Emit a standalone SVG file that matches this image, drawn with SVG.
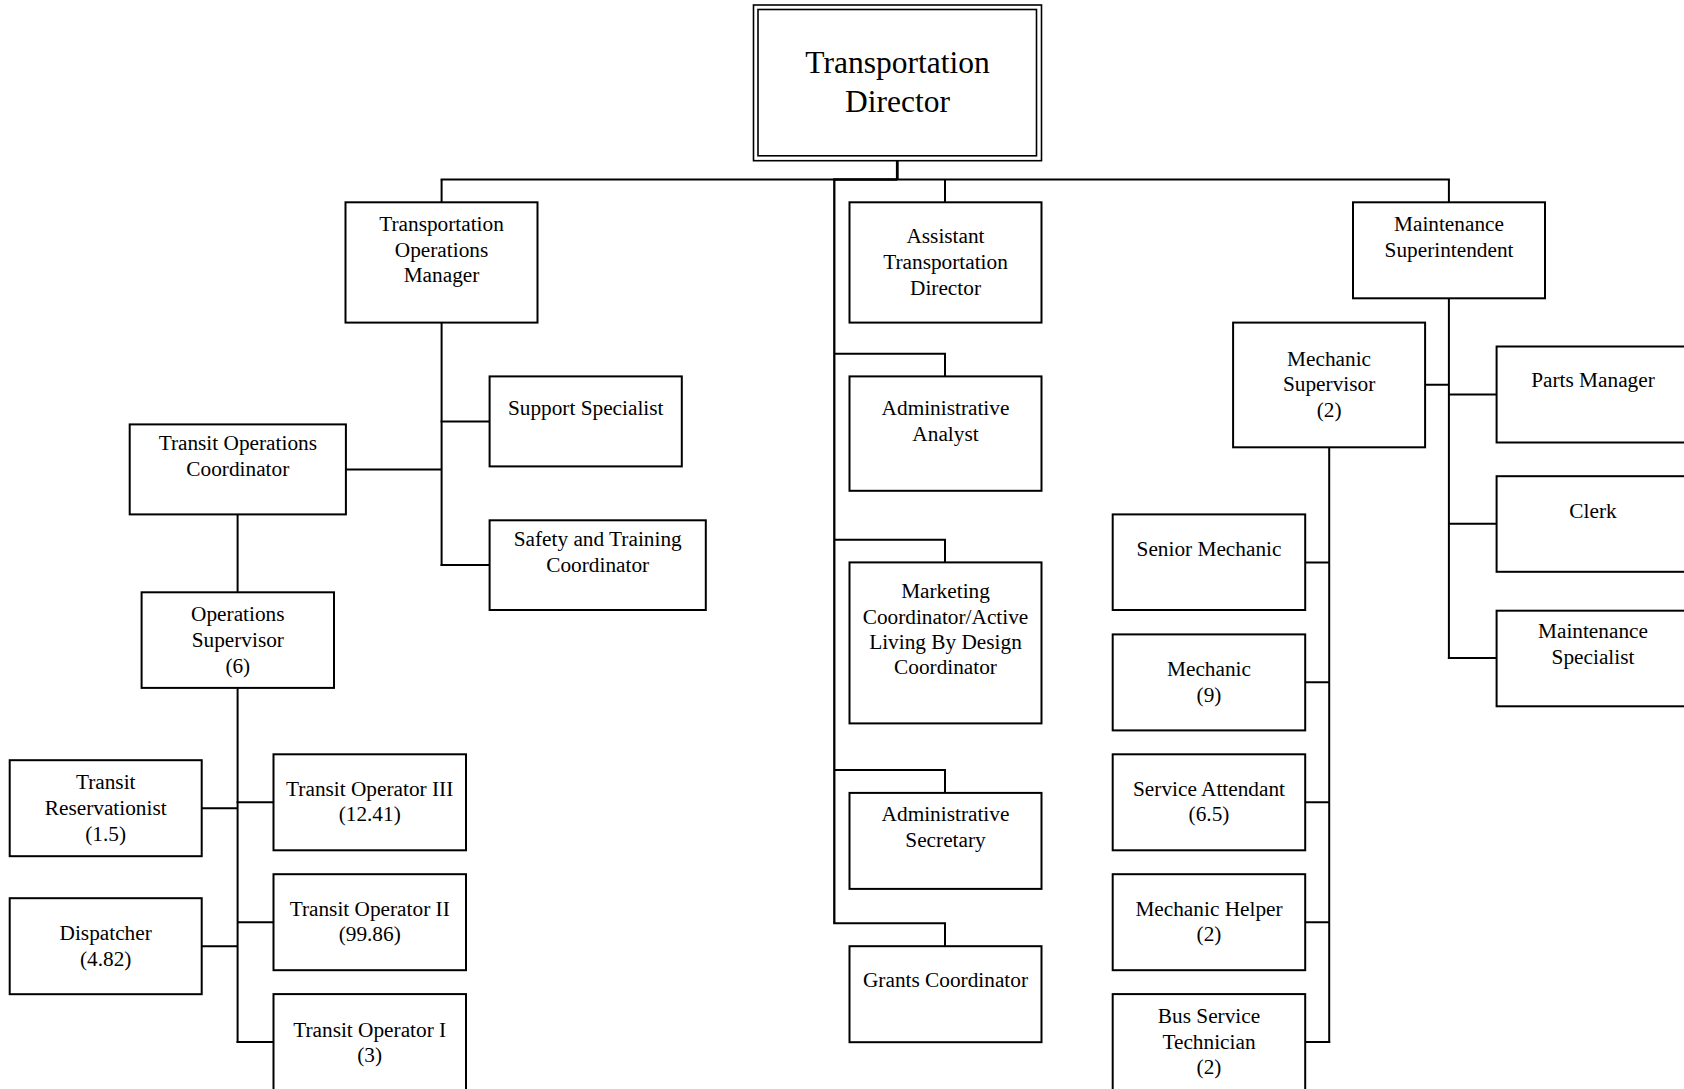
<svg xmlns="http://www.w3.org/2000/svg" width="1684" height="1089" viewBox="0 0 1684 1089">
<style>
.b{fill:#fff;stroke:#000;stroke-width:2}
.d{fill:none;stroke:#000;stroke-width:1.6}
.t{font-family:"Liberation Serif","Times New Roman",serif;font-size:21.3px;text-anchor:middle;fill:#000}
.big{font-size:31.5px}
.c line,.c path{fill:none;stroke:#000;stroke-width:2}
.c .k{stroke-width:2.8}
.c .m{stroke-width:2.3}
</style>
<rect width="1684" height="1089" fill="#fff"/>
<g class="c" id="connectors">
<line class="k" x1="897.3" y1="160.7" x2="897.3" y2="179.5"/>
<line x1="440.6" y1="179.5" x2="1449.9" y2="179.5"/>
<line class="m" x1="833.2" y1="179.5" x2="897.3" y2="179.5"/>
<line x1="441.6" y1="179.5" x2="441.6" y2="202.3"/>
<line x1="945" y1="179.5" x2="945" y2="202.3"/>
<line x1="1448.9" y1="179.5" x2="1448.9" y2="202.3"/>
<line class="m" x1="834.3" y1="179.5" x2="834.3" y2="923.2"/>
<path d="M834.3 353.8H945V376.4M834.3 539.8H945V562.4M834.3 769.9H945V792.9M833.2 923.2H945V946.2"/>
<line x1="441.6" y1="322.6" x2="441.6" y2="565.9"/>
<path d="M440.6 421.6H489.6M440.6 564.9H489.6M345.9 469.6H441.6"/>
<line x1="237.6" y1="514.4" x2="237.6" y2="592.3"/>
<line x1="237.6" y1="687.9" x2="237.6" y2="1043.1"/>
<path d="M236.6 802.3H273.5M237.6 922.2H273.5M236.6 1042.1H273.5M201.8 808.2H237.6M201.8 946.2H237.6"/>
<line x1="1448.9" y1="298.2" x2="1448.9" y2="659"/>
<path d="M1425.2 384.8H1448.9M1448.9 394.5H1496.6M1448.9 523.8H1496.6M1447.9 658H1496.6"/>
<line x1="1329.2" y1="447.3" x2="1329.2" y2="1043.1"/>
<path d="M1305.2 562.4H1329.2M1305.2 682.3H1329.2M1305.2 802.3H1329.2M1305.2 922.2H1329.2M1305.2 1042.1H1330.2"/>
</g>
<g id="director">
<rect class="d" x="753.5" y="5" width="288" height="155.7"/>
<rect class="d" x="758" y="9.5" width="278.5" height="146.3"/>
<text class="t big" x="897.5"><tspan x="897.5" y="73">Transportation</tspan><tspan x="897.5" y="112">Director</tspan></text>
</g>
<g id="tom"><rect class="b" x="345.5" y="202.3" width="192" height="120.3"/>
<text class="t"><tspan x="441.5" y="231.1">Transportation</tspan><tspan x="441.5" y="256.8">Operations</tspan><tspan x="441.5" y="282.3">Manager</tspan></text></g>
<g id="atd"><rect class="b" x="849.5" y="202.3" width="192" height="120.3"/>
<text class="t"><tspan x="945.5" y="243.3">Assistant</tspan><tspan x="945.5" y="269.3">Transportation</tspan><tspan x="945.5" y="295.3">Director</tspan></text></g>
<g id="ms"><rect class="b" x="1353" y="202.3" width="192" height="96"/>
<text class="t"><tspan x="1449" y="231.1">Maintenance</tspan><tspan x="1449" y="257.1">Superintendent</tspan></text></g>
<g id="ss"><rect class="b" x="489.6" y="376.4" width="192.2" height="90"/>
<text class="t" x="585.7" y="415.4">Support Specialist</text></g>
<g id="toc"><rect class="b" x="129.7" y="424.4" width="216.2" height="90"/>
<text class="t"><tspan x="237.8" y="450.1">Transit Operations</tspan><tspan x="237.8" y="476.2">Coordinator</tspan></text></g>
<g id="safety"><rect class="b" x="489.6" y="520.3" width="216.2" height="89.7"/>
<text class="t"><tspan x="597.7" y="545.8">Safety and Training</tspan><tspan x="597.7" y="571.8">Coordinator</tspan></text></g>
<g id="aa"><rect class="b" x="849.5" y="376.4" width="192" height="114.4"/>
<text class="t"><tspan x="945.5" y="414.7">Administrative</tspan><tspan x="945.5" y="440.7">Analyst</tspan></text></g>
<g id="mktg"><rect class="b" x="849.5" y="562.4" width="192" height="161"/>
<text class="t"><tspan x="945.5" y="597.9">Marketing</tspan><tspan x="945.5" y="623.6">Coordinator/Active</tspan><tspan x="945.5" y="649">Living By Design</tspan><tspan x="945.5" y="674.3">Coordinator</tspan></text></g>
<g id="as"><rect class="b" x="849.5" y="792.9" width="192" height="96"/>
<text class="t"><tspan x="945.5" y="821.4">Administrative</tspan><tspan x="945.5" y="847.1">Secretary</tspan></text></g>
<g id="grants"><rect class="b" x="849.5" y="946.2" width="192" height="96"/>
<text class="t" x="945.5" y="987.2">Grants Coordinator</text></g>
<g id="opsup"><rect class="b" x="141.6" y="592.3" width="192.4" height="95.6"/>
<text class="t"><tspan x="237.8" y="621.2">Operations</tspan><tspan x="237.8" y="646.9">Supervisor</tspan><tspan x="237.8" y="672.6">(6)</tspan></text></g>
<g id="tr"><rect class="b" x="9.7" y="760.2" width="192" height="96"/>
<text class="t"><tspan x="105.7" y="789">Transit</tspan><tspan x="105.7" y="815">Reservationist</tspan><tspan x="105.7" y="840.5">(1.5)</tspan></text></g>
<g id="disp"><rect class="b" x="9.7" y="898.2" width="192" height="96"/>
<text class="t"><tspan x="105.7" y="940.2">Dispatcher</tspan><tspan x="105.7" y="965.6">(4.82)</tspan></text></g>
<g id="to3"><rect class="b" x="273.5" y="754.3" width="192.5" height="96"/>
<text class="t"><tspan x="369.7" y="796">Transit Operator III</tspan><tspan x="369.7" y="821.4">(12.41)</tspan></text></g>
<g id="to2"><rect class="b" x="273.5" y="874.2" width="192.5" height="96"/>
<text class="t"><tspan x="369.7" y="915.9">Transit Operator II</tspan><tspan x="369.7" y="941.3">(99.86)</tspan></text></g>
<g id="to1"><rect class="b" x="273.5" y="994.1" width="192.5" height="96"/>
<text class="t"><tspan x="369.7" y="1036.5">Transit Operator I</tspan><tspan x="369.7" y="1061.9">(3)</tspan></text></g>
<g id="mechsup"><rect class="b" x="1233.1" y="322.6" width="192" height="124.7"/>
<text class="t"><tspan x="1329.1" y="365.7">Mechanic</tspan><tspan x="1329.1" y="391">Supervisor</tspan><tspan x="1329.1" y="417.1">(2)</tspan></text></g>
<g id="parts"><rect class="b" x="1496.6" y="346.5" width="194" height="96"/>
<text class="t" x="1593" y="386.5">Parts Manager</text></g>
<g id="clerk"><rect class="b" x="1496.6" y="476.2" width="194" height="95.6"/>
<text class="t" x="1593" y="517.9">Clerk</text></g>
<g id="mspec"><rect class="b" x="1496.6" y="610.7" width="194" height="95.6"/>
<text class="t"><tspan x="1593" y="637.8">Maintenance</tspan><tspan x="1593" y="663.9">Specialist</tspan></text></g>
<g id="senior"><rect class="b" x="1112.7" y="514.4" width="192.5" height="95.6"/>
<text class="t" x="1209" y="556">Senior Mechanic</text></g>
<g id="mech"><rect class="b" x="1112.7" y="634.4" width="192.5" height="96"/>
<text class="t"><tspan x="1209" y="676.1">Mechanic</tspan><tspan x="1209" y="702.1">(9)</tspan></text></g>
<g id="svc"><rect class="b" x="1112.7" y="754.3" width="192.5" height="96"/>
<text class="t"><tspan x="1209" y="796">Service Attendant</tspan><tspan x="1209" y="821.4">(6.5)</tspan></text></g>
<g id="helper"><rect class="b" x="1112.7" y="874.2" width="192.5" height="96"/>
<text class="t"><tspan x="1209" y="915.9">Mechanic Helper</tspan><tspan x="1209" y="941.3">(2)</tspan></text></g>
<g id="bst"><rect class="b" x="1112.7" y="994.1" width="192.5" height="96"/>
<text class="t"><tspan x="1209" y="1023">Bus Service</tspan><tspan x="1209" y="1048.7">Technician</tspan><tspan x="1209" y="1074">(2)</tspan></text></g>
</svg>
